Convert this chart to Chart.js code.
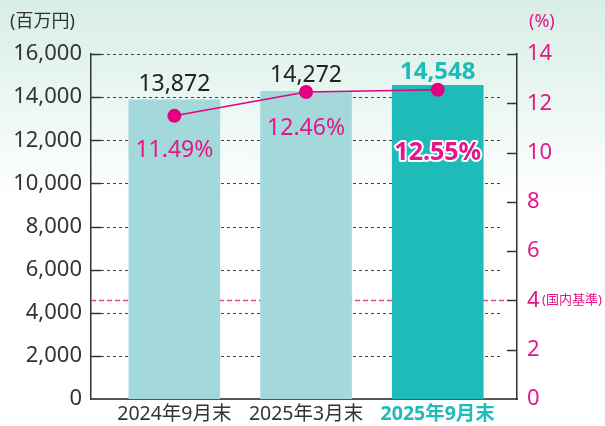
<!DOCTYPE html>
<html><head><meta charset="utf-8">
<script src="https://cdn.jsdelivr.net/npm/chart.js@4/dist/chart.umd.min.js"></script>
<style>
html,body{margin:0;padding:0;}
body{width:605px;height:426px;overflow:hidden;background:linear-gradient(to bottom,#d8eee6 0px,#eef8f4 120px,#ffffff 200px,#ffffff 426px);}
</style></head><body>
<canvas id="c" width="605" height="426"></canvas>
<script>
const categories = ['2024年9月末', '2025年3月末', '2025年9月末'];
const amounts = [13872, 14272, 14548];
const ratios = [11.49, 12.46, 12.55];
const leftTicks = [0, 2000, 4000, 6000, 8000, 10000, 12000, 14000, 16000];
const rightTicks = [0, 2, 4, 6, 8, 10, 12, 14];
const domesticStandard = 4;
const amountUnit = '(百万円)';
const ratioUnit = '(%)';
const standardLabel = '(国内基準)';

const PINK = '#e4007f';
const PINK_TEXT = '#e5168b';
const TEAL = '#1fbbb9';
const TEAL_LIGHT = '#a3d9da';
const DARK = '#333333';
const FONT = '"Noto Sans", "Noto Sans CJK JP", sans-serif';

const overlay = {
  id: 'overlay',
  beforeDatasetsDraw(chart) {
    const ctx = chart.ctx, ca = chart.chartArea;
    const y = chart.scales.y, y2 = chart.scales.y2;
    ctx.save();
    ctx.strokeStyle = '#444';
    ctx.lineWidth = 1;
    ctx.setLineDash([3, 3]);
    leftTicks.forEach(v => {
      if (v === 0) return;
      const py = Math.round(y.getPixelForValue(v)) + 0.5;
      ctx.beginPath(); ctx.moveTo(ca.left + 10, py); ctx.lineTo(ca.right - 14, py); ctx.stroke();
    });
    ctx.strokeStyle = '#ea3d9c';
    ctx.lineWidth = 1.5;
    ctx.setLineDash([5, 3]);
    const sy = Math.round(y2.getPixelForValue(domesticStandard)) + 0.5;
    ctx.beginPath(); ctx.moveTo(ca.left, sy); ctx.lineTo(ca.right - 10, sy); ctx.stroke();
    ctx.setLineDash([]);
    ctx.strokeStyle = DARK;
    ctx.lineWidth = 1.5;
    leftTicks.forEach(v => {
      if (v === 0) return;
      const py = Math.round(y.getPixelForValue(v)) + 0.5;
      ctx.beginPath(); ctx.moveTo(ca.left, py); ctx.lineTo(ca.left + 10, py); ctx.stroke();
    });
    rightTicks.forEach(v => {
      if (v === 0) return;
      const py = Math.round(y2.getPixelForValue(v)) + 0.5;
      ctx.beginPath(); ctx.moveTo(ca.right - 10, py); ctx.lineTo(ca.right, py); ctx.stroke();
    });
    ctx.restore();
  },
  afterDatasetsDraw(chart) {
    const ctx = chart.ctx;
    const bars = chart.getDatasetMeta(0).data;
    const pts = chart.getDatasetMeta(1).data;
    ctx.save();
    ctx.textAlign = 'center';
    ctx.textBaseline = 'alphabetic';
    bars.forEach((b, i) => {
      const last = i === bars.length - 1;
      ctx.font = (last ? 'bold 24px ' : '23px ') + FONT;
      ctx.fillStyle = last ? TEAL : '#222';
      ctx.fillText(amounts[i].toLocaleString('en-US'), b.x, b.y - (last ? 6 : 9));
    });
    const offs = [41, 43, 70];
    pts.forEach((p, i) => {
      const last = i === pts.length - 1;
      const txt = ratios[i].toFixed(2) + '%';
      ctx.font = (last ? 'bold 25px ' : '23px ') + FONT;
      if (last) {
        ctx.lineJoin = 'round';
        ctx.lineWidth = 4;
        ctx.strokeStyle = '#ffffff';
        ctx.strokeText(txt, p.x, p.y + offs[i]);
      }
      ctx.fillStyle = PINK_TEXT;
      ctx.fillText(txt, p.x, p.y + offs[i]);
    });
    ctx.textBaseline = 'middle';
    ctx.textAlign = 'left';
    ctx.font = '18px ' + FONT;
    ctx.fillStyle = DARK;
    ctx.fillText(amountUnit, 10, 22);
    ctx.fillStyle = PINK_TEXT;
    ctx.fillText(ratioUnit, 529, 22);
    ctx.font = '13px ' + FONT;
    ctx.fillText(standardLabel, 542, chart.scales.y2.getPixelForValue(domesticStandard));
    ctx.restore();
  }
};

new Chart(document.getElementById('c'), {
  data: {
    datasets: [
      {
        type: 'bar',
        data: amounts.map((v, i) => ({ x: i, y: v })),
        backgroundColor: amounts.map((v, i) => i === amounts.length - 1 ? TEAL : TEAL_LIGHT),
        barThickness: 91,
        xAxisID: 'x', yAxisID: 'y',
        order: 2
      },
      {
        type: 'line',
        data: ratios.map((v, i) => ({ x: i, y: v })),
        borderColor: PINK,
        borderWidth: 1.5,
        pointRadius: 7,
        pointBackgroundColor: PINK,
        pointBorderWidth: 0,
        xAxisID: 'x', yAxisID: 'y2',
        order: 1
      }
    ]
  },
  options: {
    responsive: false,
    animation: false,
    devicePixelRatio: 1,
    layout: { padding: { top: 54, left: 0, right: 0, bottom: 0 } },
    plugins: { legend: { display: false }, tooltip: { enabled: false } },
    scales: {
      x: {
        type: 'linear', min: -0.633, max: 2.602, offset: false,
        afterBuildTicks: s => { s.ticks = categories.map((c, i) => ({ value: i })); },
        afterFit: s => { s.height = 27; },
        ticks: {
          autoSkip: false, maxRotation: 0, padding: 4,
          callback: v => categories[v],
          color: c => c.index === categories.length - 1 ? TEAL : DARK,
          font: c => ({ family: FONT, size: 19.5, weight: c.index === categories.length - 1 ? 'bold' : 'normal' })
        },
        grid: { display: false, drawTicks: false, offset: false },
        border: { color: '#555', width: 2 }
      },
      y: {
        position: 'left', min: 0, max: 16000,
        afterBuildTicks: s => { s.ticks = leftTicks.map(v => ({ value: v })); },
        afterFit: s => { s.width = 91; },
        ticks: {
          padding: 9, color: DARK,
          font: { family: FONT, size: 22 },
          callback: v => v.toLocaleString('en-US')
        },
        grid: { display: false, drawTicks: false },
        border: { color: DARK, width: 1.5 }
      },
      y2: {
        position: 'right', min: 0, max: 14,
        afterBuildTicks: s => { s.ticks = rightTicks.map(v => ({ value: v })); },
        afterFit: s => { s.width = 88; },
        ticks: {
          padding: 10, color: PINK_TEXT,
          font: { family: FONT, size: 22 },
          callback: v => String(v)
        },
        grid: { display: false, drawTicks: false },
        border: { color: DARK, width: 1.5 }
      }
    }
  },
  plugins: [overlay]
});
</script>
</body></html>
